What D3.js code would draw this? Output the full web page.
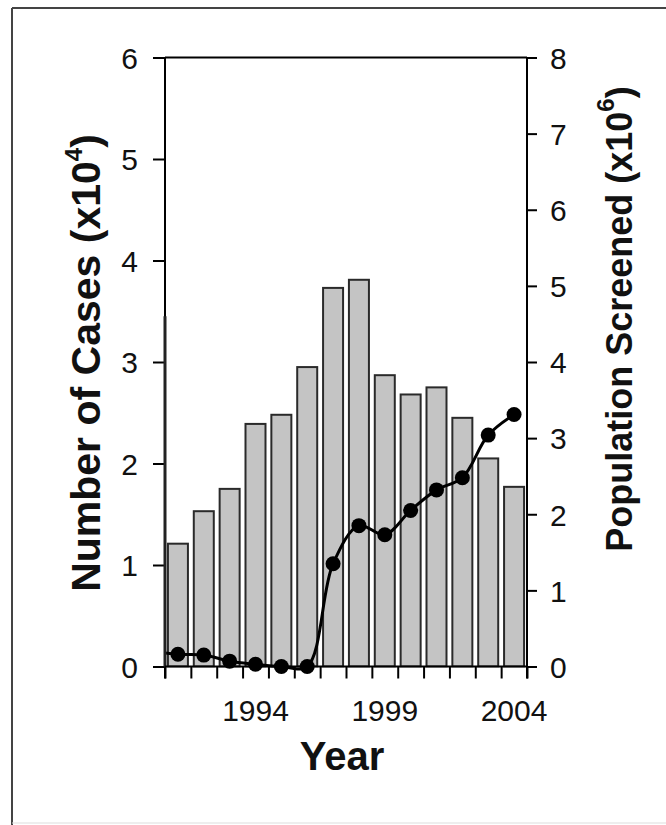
<!DOCTYPE html>
<html><head><meta charset="utf-8">
<script src="https://cdn.jsdelivr.net/npm/d3@7"></script>
<style>body{margin:0;background:#fff}svg{display:block}text{font-family:"Liberation Sans",Arial,sans-serif}</style>
</head><body><svg id="c" width="666" height="825"></svg>
<script>
// Data (1990 is hidden behind the left axis in the original; only its line segment shows)
const years = [1990,1991,1992,1993,1994,1995,1996,1997,1998,1999,2000,2001,2002,2003,2004];
const cases = [3.45,1.21,1.53,1.75,2.39,2.48,2.95,3.73,3.81,2.87,2.68,2.75,2.45,2.05,1.77]; // x10^4
const screened = [0.20,0.16,0.15,0.07,0.03,0.0,0.0,1.35,1.85,1.73,2.05,2.32,2.48,3.04,3.31]; // x10^6
const xTickLabels = [1994,1999,2004];
const leftTicks = [0,1,2,3,4,5,6];
const rightTicks = [0,1,2,3,4,5,6,7,8];

const svg = d3.select("#c");
const L=165,R=527,T=57.5,B=666.5;
const x = d3.scaleLinear().domain([1990.5,2004.5]).range([L,R]);
const yL = d3.scaleLinear().domain([0,6]).range([B,T]);
const yR = d3.scaleLinear().domain([0,8]).range([B,T]);
const bw = 20;

// outer frame
svg.append("line").attr("x1",12).attr("x2",666).attr("y1",8).attr("y2",8).attr("stroke","#444").attr("stroke-width",2);
svg.append("line").attr("x1",12).attr("x2",12).attr("y1",8).attr("y2",825).attr("stroke","#444").attr("stroke-width",2);
svg.append("line").attr("x1",12).attr("x2",666).attr("y1",823).attr("y2",823).attr("stroke","#ddd").attr("stroke-width",1);

const defs = svg.append("defs");
defs.append("clipPath").attr("id","clip").append("rect")
  .attr("x",L).attr("y",0).attr("width",R-L).attr("height",B+1);
defs.append("clipPath").attr("id","clip2").append("rect")
  .attr("x",L).attr("y",0).attr("width",R-L+10).attr("height",B+10);

const g = svg.append("g").attr("clip-path","url(#clip)");
g.selectAll("rect.bar").data(years).join("rect").attr("class","bar")
  .attr("x",(d)=>x(d)-bw/2).attr("width",bw)
  .attr("y",(d,i)=>yL(cases[i])).attr("height",(d,i)=>B-yL(cases[i]))
  .attr("fill","#c4c4c4").attr("stroke","#2a2a2a").attr("stroke-width",2);

const gl = svg.append("g").attr("clip-path","url(#clip2)");
const line = d3.line().x((d,i)=>x(years[i])).y(d=>yR(d)).curve(d3.curveCatmullRom.alpha(0.5));
gl.append("path").datum(screened).attr("d",line).attr("fill","none").attr("stroke","#000").attr("stroke-width",3);
gl.selectAll("circle").data(screened).join("circle")
  .attr("cx",(d,i)=>x(years[i])).attr("cy",d=>yR(d)).attr("r",7.5).attr("fill","#000");

// axes
const fs = 30;
const ax = svg.append("g").attr("transform",`translate(${L},0)`)
  .call(d3.axisLeft(yL).tickValues(leftTicks).tickSize(12).tickSizeOuter(0).tickPadding(15).tickFormat(d3.format("d")));
const ar = svg.append("g").attr("transform",`translate(${R},0)`)
  .call(d3.axisRight(yR).tickValues(rightTicks).tickSize(10).tickSizeOuter(0).tickPadding(13).tickFormat(d3.format("d")));
const xb = svg.append("g").attr("transform",`translate(0,${B})`)
  .call(d3.axisBottom(x).tickValues(d3.range(1990.5,2005,1)).tickSize(12).tickSizeOuter(0).tickFormat(""));
[ax,ar,xb].forEach(a=>{a.select(".domain").remove();
  a.selectAll("line").attr("stroke","#000").attr("stroke-width",2);
  a.selectAll("text").attr("font-size",fs).attr("fill","#111").style("font-family","'Liberation Sans',Arial,sans-serif");});
ax.selectAll("text").attr("dy","0.36em");
ar.selectAll("text").attr("dy","0.36em");
// frame lines of plot
svg.append("line").attr("x1",L).attr("x2",L).attr("y1",T).attr("y2",B+12).attr("stroke","#000").attr("stroke-width",2);
svg.append("line").attr("x1",L).attr("x2",L).attr("y1",yL(cases[0])).attr("y2",B).attr("stroke","#222").attr("stroke-width",3);
svg.append("line").attr("x1",R).attr("x2",R).attr("y1",T).attr("y2",B+12).attr("stroke","#000").attr("stroke-width",2);
svg.append("line").attr("x1",L).attr("x2",R).attr("y1",T).attr("y2",T).attr("stroke","#000").attr("stroke-width",2);
svg.append("line").attr("x1",L).attr("x2",R).attr("y1",B).attr("y2",B).attr("stroke","#000").attr("stroke-width",2);

svg.selectAll("text.xl").data(xTickLabels).join("text").attr("class","xl")
  .attr("x",d=>x(d)).attr("y",721).attr("text-anchor","middle").attr("font-size",fs).attr("fill","#111").text(d=>d);

svg.append("text").attr("x",(L+R)/2-4).attr("y",770).attr("text-anchor","middle")
  .attr("font-size",40).attr("font-weight","bold").attr("fill","#111").text("Year");

function vtitle(cx,cy,main,sup,fsz){
  const t = svg.append("text").attr("transform",`translate(${cx},${cy}) rotate(-90)`)
    .attr("text-anchor","middle").attr("font-size",fsz).attr("font-weight","bold").attr("fill","#111");
  t.append("tspan").text(main);
  t.append("tspan").attr("font-size",24).attr("dy",-18).text(sup);
  t.append("tspan").attr("dy",18).text(")");
  return t;
}
vtitle(100,363,"Number of Cases (x10","4",41);
vtitle(632,319,"Population Screened (x10","6",36);
</script></body></html>
